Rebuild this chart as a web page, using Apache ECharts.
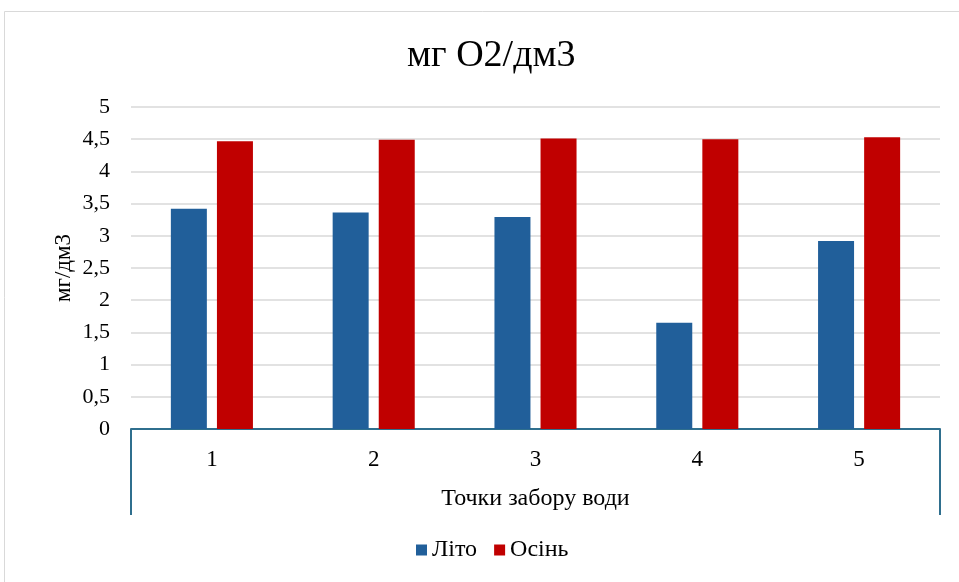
<!DOCTYPE html>
<html>
<head>
<meta charset="utf-8">
<script src="https://cdn.jsdelivr.net/npm/echarts@6/dist/echarts.min.js"></script>
<style>
  html, body { margin: 0; padding: 0; background: #fff; }
  #chart { width: 959px; height: 582px; }
</style>
</head>
<body>
<div id="chart"></div>
<script>
// Sampling points and dissolved oxygen per season
const points = ['1', '2', '3', '4', '5'];
const groupLabel = ['Точки забору води'];
const summer = [3.42, 3.36, 3.29, 1.65, 2.92];
const autumn = [4.47, 4.49, 4.51, 4.50, 4.53];
const seriesNames = ['Літо', 'Осінь'];
const yTicks = { min: 0, max: 5, step: 0.5 };

const FONT = '"Liberation Serif", "Times New Roman", serif';
const AXIS_COLOR = '#2f6f8e';

const chart = echarts.init(document.getElementById('chart'), null, { renderer: 'canvas' });

chart.setOption({
  backgroundColor: '#ffffff',
  animation: false,
  title: {
    text: 'мг O2/дм3',
    left: 402,
    top: 32,
    textStyle: { fontFamily: FONT, fontSize: 38, fontWeight: 'normal', color: '#000' }
  },
  graphic: [{
    type: 'rect',
    shape: { x: 4.5, y: 11.5, width: 970, height: 600 },
    style: { fill: 'none', stroke: '#d9d9d9', lineWidth: 1 },
    silent: true
  }],
  legend: {
    data: seriesNames,
    bottom: 15,
    left: 411,
    itemWidth: 11,
    itemHeight: 11,
    itemGap: 17,
    icon: 'rect',
    textStyle: { fontFamily: FONT, fontSize: 24, color: '#000', padding: [0, 0, 0, 0] }
  },
  grid: { left: 131, right: 19, top: 107, bottom: 153, containLabel: false },
  xAxis: [{
    type: 'category',
    data: points,
    position: 'bottom',
    axisLine: { show: true, lineStyle: { color: AXIS_COLOR, width: 2 } },
    axisTick: { show: false },
    axisLabel: { fontFamily: FONT, fontSize: 23, color: '#000', margin: 19 }
  }, {
    type: 'category',
    data: groupLabel,
    position: 'bottom',
    boundaryGap: true,
    axisLine: { show: false },
    axisTick: { show: true, length: 86, lineStyle: { color: AXIS_COLOR, width: 2 } },
    axisLabel: { fontFamily: FONT, fontSize: 24, color: '#000', margin: 58 }
  }],
  yAxis: {
    type: 'value',
    min: yTicks.min,
    max: yTicks.max,
    interval: yTicks.step,
    name: 'мг/дм3',
    nameLocation: 'middle',
    nameGap: 56,
    nameMoveOverlap: false,
    nameRotate: 90,
    nameTextStyle: { fontFamily: FONT, fontSize: 23, color: '#000' },
    axisLine: { show: false },
    axisTick: { show: false },
    axisLabel: {
      fontFamily: FONT, fontSize: 22, color: '#000', margin: 21,
      formatter: v => String(v).replace('.', ',')
    },
    splitLine: { lineStyle: { color: '#d9d9d9', width: 1.5 } }
  },
  series: [{
    name: seriesNames[0],
    type: 'bar',
    data: summer,
    barWidth: 36,
    barGap: '28%',
    itemStyle: { color: '#215f9a' }
  }, {
    name: seriesNames[1],
    type: 'bar',
    data: autumn,
    barWidth: 36,
    itemStyle: { color: '#c00000' }
  }]
});
</script>
</body>
</html>
